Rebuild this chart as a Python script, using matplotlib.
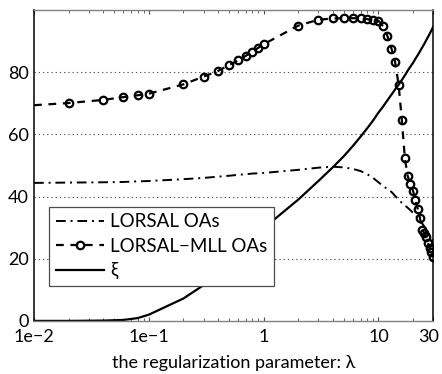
import matplotlib
matplotlib.use("Agg")
import matplotlib.pyplot as plt
from matplotlib.ticker import FixedLocator, LogLocator, NullFormatter
from matplotlib.transforms import ScaledTranslation

plt.rcParams['font.family'] = ['Lato', 'DejaVu Sans']

# regularization parameter values
lam = [0.01, 0.02, 0.04, 0.06, 0.08, 0.1, 0.2, 0.3, 0.4, 0.5, 0.6, 0.7, 0.8, 0.9, 1,
       2, 3, 4, 5, 6, 7, 8, 9, 10, 11, 12, 13, 14, 15, 16, 17, 18, 19, 20,
       21, 22, 23, 24, 25, 26, 27, 28, 29, 30]

lorsal = [44.4, 44.5, 44.6, 44.7, 44.9, 45.0, 45.6, 46.0, 46.4, 46.7, 47.0, 47.2, 47.4, 47.5, 47.6,
          48.6, 49.3, 49.6, 49.4, 48.9, 48.2, 47.2, 46.0, 44.6, 43.4, 42.4, 41.5, 40.2, 39.0, 38.0,
          37.2, 36.4, 35.6, 34.8, 34.0, 33.2, 32.3, 31.4, 30.5, 29.6, 28.6, 27.6, 26.6, 25.6]

lorsal_mll = [69.4, 70.1, 71.1, 72.0, 72.6, 73.1, 76.1, 78.6, 80.4, 82.3, 83.8, 85.3, 86.6, 87.9, 89.0,
              95.0, 96.9, 97.3, 97.4, 97.4, 97.3, 97.1, 96.8, 96.6, 94.8, 91.6, 87.6, 83.2, 76.0, 64.7,
              52.4, 46.6, 44.0, 41.9, 38.9, 36.1, 33.2, 29.3, 28.4, 27.1, 25.0, 23.4, 22.1, 20.7]

xi = [0.0, 0.0, 0.1, 0.3, 0.9, 2.0, 7.2, 11.5, 15.9, 19.3, 22.0, 24.4, 26.4, 28.2, 29.8,
      39.0, 45.0, 49.4, 53.0, 56.3, 59.3, 62.0, 64.5, 67.0, 69.0, 71.0, 72.8, 74.5, 76.0, 77.5,
      79.0, 80.5, 81.8, 83.0, 84.3, 85.5, 86.7, 87.9, 89.0, 90.2, 91.3, 92.4, 93.5, 94.6]

xticks = [0.01, 0.1, 1, 10, 30]
xticklabels = ['1e\u22122', '1e\u22121', '1', '10', '30']
yticks = [0, 20, 40, 60, 80]

fig = plt.figure(figsize=(4.42, 3.74), dpi=100)
ax = fig.add_axes([0.077, 0.142, 0.903, 0.831])

ax.plot(lam, lorsal, color='k', lw=1.4, linestyle='-.', dashes=(5, 2.5, 1, 2.5),
        label='LORSAL OAs')
ax.plot(lam, lorsal_mll, color='k', lw=1.6, dashes=(3.5, 3), marker='o', ms=5.4,
        mfc='none', mec='k', mew=1.6, markevery=list(range(1, len(lam))),
        label='LORSAL\u2212MLL OAs')
ax.plot(lam, xi, color='k', lw=1.6, label='\u03be')

ax.set_xscale('log')
ax.set_xlim(0.01, 30)
ax.set_ylim(0, 100)

ax.xaxis.set_major_locator(FixedLocator(xticks))
ax.set_xticklabels(xticklabels)
ax.xaxis.set_minor_locator(LogLocator(base=10, subs=range(2, 10)))
ax.xaxis.set_minor_formatter(NullFormatter())
ax.set_yticks(yticks)

ax.tick_params(axis='x', which='both', direction='in', top=True, labelsize=13,
               pad=6, color='0.3')
ax.tick_params(axis='x', which='major', length=3)
ax.tick_params(axis='x', which='minor', length=2)
ax.tick_params(axis='y', length=0, labelsize=13, pad=4)

# keep the last tick label inside the figure
last = ax.get_xticklabels()[-1]
last.set_transform(last.get_transform() + ScaledTranslation(-5 / 100, 0, fig.dpi_scale_trans))

for y in [20, 40, 60, 80]:
    ax.axhline(y, color='0.35', lw=0.8, linestyle=(0, (1.2, 2.6)), zorder=0)

for side in ['left', 'right']:
    ax.spines[side].set_color('k')
    ax.spines[side].set_linewidth(1.1)
for side in ['top', 'bottom']:
    ax.spines[side].set_color('0.5')
    ax.spines[side].set_linewidth(1.0)

ax.set_xlabel('the regularization parameter: \u03bb', fontsize=13, labelpad=7)

leg = ax.legend(loc='lower left', bbox_to_anchor=(0.0376, 0.1125), borderaxespad=0,
                fontsize=13.5, handlelength=2.6, handletextpad=0.3, labelspacing=0.4,
                borderpad=0.35, fancybox=False, framealpha=1, edgecolor='0.3')
leg.get_frame().set_linewidth(0.9)

fig.savefig('out.png', dpi=100)
